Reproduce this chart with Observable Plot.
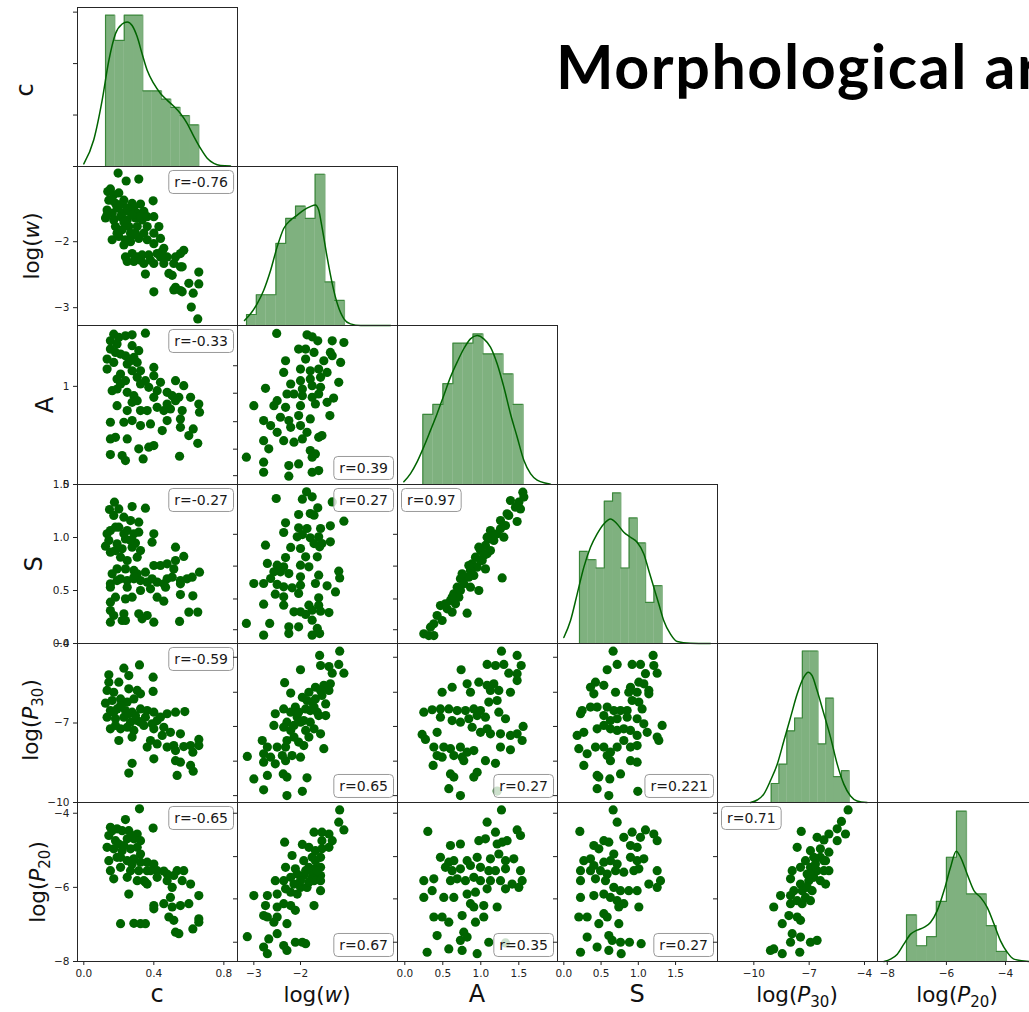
<!DOCTYPE html>
<html>
<head>
<meta charset="utf-8">
<script src="https://cdn.jsdelivr.net/npm/d3@7"></script>
<script src="https://cdn.jsdelivr.net/npm/@observablehq/plot@0.6"></script>
<style>
  html, body { margin: 0; padding: 0; background: #fff; overflow: hidden; }
  #fig { position: relative; width: 1029px; height: 1012px; overflow: hidden; background: #fff; }
  .panel { position: absolute; }
  #labels { position: absolute; left: 0; top: 0; pointer-events: none; }
</style>
</head>
<body>
<div id="fig"></div>
<script>
// ---- variables (column order = row order) ----
const varNames = ["c", "log(w)", "A", "S", "log(P30)", "log(P20)"];

// ---- axis domains and ticks ----
const colDomains = [[-0.036, 0.878], [-3.35, 0.079], [-0.096, 2.009], [-0.085, 2.063], [-11.97, -3.295], [-8.33, -2.92]];
const rowDomains = [null, [-3.27, -0.86], [0, 1.62], [0, 1.5], [-10, -4], [-8, -3.71]];
const densityMax = [3.09, 1.07, 1.06, 1.516, 0.51, 0.807];
const colTicks = [[0, 0.4, 0.8], [-3, -2], [0, 0.5, 1, 1.5], [0, 0.5, 1, 1.5], [-10, -7, -4], [-8, -6, -4]];
const colTickFormats = [".1f", "d", ".1f", ".1f", "d", "d"];
const rowTicks = [[0, 1, 2, 3], [-3, -2], [0, 1], [0, 0.5, 1, 1.5], [-10, -7, -4], [-8, -6, -4]];
const rowTickFormats = [null, "d", "d", ".1f", "d", "d"];
const innerRowTicks = [null, null, [1.21, 0.93, 0.64, 0.36, 0.09], [1.03, 0.73, 0.42, 0.13], [-4.52, -5.84, -7.13, -8.44, -9.74], [-4.0, -5.17, -6.31, -7.48]];

// ---- marginal histograms (density) and KDE curves ----
const cEdges = [0.124, 0.177, 0.231, 0.284, 0.337, 0.391, 0.444, 0.497, 0.550, 0.604, 0.657];
const cDensity = [2.94, 2.45, 2.94, 2.94, 1.47, 1.47, 1.31, 1.15, 0.99, 0.81];
const cKde = [[0.000,0.05],[0.057,0.52],[0.105,1.29],[0.143,2.06],[0.181,2.58],[0.219,2.77],[0.248,2.81],[0.276,2.74],[0.305,2.52],[0.333,2.19],[0.362,1.87],[0.400,1.61],[0.438,1.42],[0.476,1.29],[0.514,1.17],[0.552,1.03],[0.590,0.84],[0.629,0.58],[0.667,0.35],[0.705,0.16],[0.743,0.06],[0.781,0.02],[0.838,0.01]];

const logwEdges = [-3.157, -2.947, -2.737, -2.527, -2.317, -2.107, -1.897, -1.687, -1.477, -1.267, -1.057];
const logwDensity = [0.074, 0.207, 0.207, 0.552, 0.721, 0.804, 0.721, 1.018, 0.293, 0.169];
const logwKde = [[-3.20,0.034],[-3.07,0.079],[-2.93,0.146],[-2.79,0.236],[-2.64,0.372],[-2.50,0.529],[-2.36,0.653],[-2.21,0.709],[-2.07,0.743],[-1.93,0.777],[-1.79,0.800],[-1.68,0.811],[-1.61,0.777],[-1.54,0.664],[-1.43,0.462],[-1.32,0.282],[-1.21,0.146],[-1.07,0.045],[-0.93,0.011],[-0.71,0.0],[-0.07,0.0]];

const AEdges = [0.237, 0.369, 0.501, 0.633, 0.765, 0.897, 1.029, 1.161, 1.293, 1.425, 1.557];
const ADensity = [0.468, 0.534, 0.672, 0.942, 0.942, 1.004, 0.871, 0.871, 0.738, 0.534];
const AKde = [[-0.013,0.018],[0.075,0.073],[0.162,0.151],[0.250,0.251],[0.338,0.361],[0.425,0.472],[0.513,0.594],[0.601,0.716],[0.689,0.816],[0.776,0.905],[0.864,0.971],[0.952,0.993],[1.039,0.971],[1.127,0.916],[1.215,0.805],[1.303,0.650],[1.390,0.472],[1.478,0.317],[1.566,0.162],[1.654,0.073],[1.741,0.029],[1.873,0.007],[1.917,0.002]];

const SEdges = [0.210, 0.321, 0.432, 0.543, 0.654, 0.765, 0.876, 0.987, 1.098, 1.209, 1.320];
const SDensity = [0.879, 0.799, 0.720, 1.357, 1.436, 0.720, 1.197, 0.959, 0.392, 0.551];
const SKde = [[0.000,0.057],[0.089,0.217],[0.179,0.471],[0.268,0.726],[0.358,0.917],[0.447,1.045],[0.537,1.140],[0.626,1.188],[0.716,1.140],[0.805,1.061],[0.895,1.013],[0.984,0.965],[1.074,0.854],[1.141,0.694],[1.208,0.535],[1.275,0.376],[1.342,0.217],[1.432,0.089],[1.521,0.019],[1.700,0.003],[1.969,0.0]];

const P30Edges = [-9.06, -8.64, -8.21, -7.79, -7.37, -6.95, -6.52, -6.10, -5.68, -5.25, -4.83];
const P30Density = [0.061, 0.123, 0.230, 0.271, 0.486, 0.486, 0.188, 0.335, 0.083, 0.102];
const P30Kde = [[-10.18,0.0],[-9.82,0.008],[-9.46,0.027],[-9.10,0.070],[-8.73,0.123],[-8.37,0.198],[-8.01,0.273],[-7.65,0.348],[-7.29,0.402],[-7.05,0.418],[-6.84,0.407],[-6.57,0.359],[-6.20,0.284],[-5.84,0.209],[-5.48,0.123],[-5.12,0.059],[-4.76,0.021],[-4.40,0.005],[-3.86,0.0]];

const P20Edges = [-7.35, -7.01, -6.67, -6.34, -6.00, -5.66, -5.32, -4.98, -4.65, -4.31, -3.97];
const P20Density = [0.237, 0.080, 0.126, 0.305, 0.529, 0.763, 0.343, 0.343, 0.182, 0.051];
const P20Kde = [[-8.11,0.0],[-7.89,0.012],[-7.66,0.037],[-7.44,0.088],[-7.21,0.139],[-6.99,0.159],[-6.76,0.173],[-6.54,0.198],[-6.31,0.258],[-6.08,0.360],[-5.86,0.478],[-5.67,0.560],[-5.52,0.529],[-5.30,0.444],[-5.07,0.360],[-4.85,0.326],[-4.62,0.275],[-4.39,0.190],[-4.17,0.105],[-3.94,0.046],[-3.72,0.012],[-3.19,0.0]];

// ---- pairwise samples: [x (column variable), y (row variable)] ----
const c_logw = [[0.196,-0.96],[0.242,-1.08],[0.314,-1.05],[0.137,-1.24],[0.152,-1.20],[0.171,-1.29],[0.200,-1.26],[0.143,-1.37],[0.181,-1.42],[0.229,-1.37],[0.276,-1.42],[0.324,-1.43],[0.396,-1.38],[0.133,-1.52],[0.162,-1.57],[0.190,-1.49],[0.219,-1.57],[0.257,-1.54],[0.286,-1.49],[0.305,-1.57],[0.343,-1.54],[0.124,-1.64],[0.171,-1.67],[0.210,-1.62],[0.248,-1.67],[0.295,-1.64],[0.333,-1.67],[0.400,-1.62],[0.181,-1.77],[0.219,-1.82],[0.257,-1.77],[0.305,-1.77],[0.362,-1.77],[0.429,-1.77],[0.162,-1.97],[0.200,-1.92],[0.238,-1.97],[0.276,-1.90],[0.314,-1.95],[0.362,-1.97],[0.438,-1.95],[0.229,-2.05],[0.267,-2.00],[0.400,-2.03],[0.457,-2.10],[0.238,-2.23],[0.276,-2.18],[0.305,-2.23],[0.333,-2.20],[0.371,-2.20],[0.400,-2.33],[0.438,-2.23],[0.286,-2.30],[0.248,-2.30],[0.324,-2.28],[0.524,-2.23],[0.571,-2.13],[0.514,-2.33],[0.562,-2.38],[0.457,-2.33],[0.486,-2.48],[0.505,-2.51],[0.552,-2.38],[0.352,-2.49],[0.657,-2.46],[0.600,-2.63],[0.524,-2.69],[0.552,-2.74],[0.657,-2.64],[0.400,-2.76],[0.514,-2.73],[0.562,-2.76],[0.625,-2.78],[0.614,-2.99],[0.651,-3.17],[0.210,-1.44],[0.248,-1.49],[0.162,-1.37],[0.276,-1.59],[0.324,-1.62],[0.362,-1.62],[0.229,-1.70],[0.267,-1.87],[0.295,-1.87],[0.343,-1.87],[0.400,-1.87],[0.190,-1.87],[0.133,-1.59],[0.448,-2.15],[0.419,-2.18],[0.343,-2.33],[0.381,-2.28],[0.476,-2.23],[0.552,-2.18]];

const c_A = [[0.171,1.532],[0.200,1.498],[0.238,1.515],[0.276,1.525],[0.352,1.542],[0.152,1.464],[0.190,1.431],[0.152,1.380],[0.181,1.346],[0.276,1.414],[0.314,1.363],[0.238,1.312],[0.286,1.295],[0.133,1.278],[0.171,1.244],[0.248,1.227],[0.305,1.244],[0.133,1.176],[0.210,1.125],[0.276,1.159],[0.400,1.193],[0.190,1.075],[0.238,1.058],[0.305,1.092],[0.352,1.058],[0.400,1.108],[0.438,1.041],[0.524,1.058],[0.571,1.007],[0.162,0.956],[0.190,0.973],[0.286,0.905],[0.324,1.024],[0.371,0.990],[0.419,0.956],[0.476,0.939],[0.505,0.905],[0.543,0.888],[0.610,0.888],[0.657,0.820],[0.190,0.803],[0.276,0.837],[0.305,0.854],[0.248,0.753],[0.324,0.753],[0.362,0.753],[0.419,0.786],[0.457,0.753],[0.495,0.769],[0.562,0.753],[0.661,0.736],[0.152,0.634],[0.229,0.634],[0.276,0.651],[0.324,0.600],[0.381,0.617],[0.448,0.549],[0.476,0.651],[0.552,0.668],[0.552,0.583],[0.625,0.566],[0.152,0.464],[0.181,0.481],[0.248,0.464],[0.600,0.498],[0.314,0.363],[0.371,0.380],[0.400,0.397],[0.651,0.420],[0.152,0.305],[0.219,0.295],[0.238,0.244],[0.339,0.261],[0.547,0.288],[0.210,1.329],[0.267,1.261],[0.324,1.159],[0.210,1.024],[0.248,0.939],[0.400,0.888],[0.476,0.820],[0.524,0.854]];

const c_S = [[0.175,1.333],[0.147,1.264],[0.200,1.270],[0.276,1.292],[0.352,1.277],[0.171,1.208],[0.229,1.192],[0.267,1.160],[0.314,1.145],[0.152,1.066],[0.200,1.097],[0.248,1.066],[0.286,1.035],[0.314,1.050],[0.133,1.035],[0.143,0.972],[0.190,0.940],[0.238,0.987],[0.276,0.972],[0.295,0.947],[0.400,1.035],[0.390,0.956],[0.124,0.918],[0.181,0.877],[0.219,0.893],[0.276,0.909],[0.324,0.877],[0.210,0.814],[0.305,0.814],[0.524,0.909],[0.571,0.821],[0.162,0.657],[0.190,0.704],[0.238,0.704],[0.286,0.689],[0.305,0.657],[0.352,0.673],[0.400,0.736],[0.438,0.736],[0.476,0.752],[0.524,0.783],[0.514,0.704],[0.152,0.563],[0.190,0.594],[0.248,0.594],[0.286,0.610],[0.324,0.594],[0.362,0.579],[0.419,0.579],[0.476,0.610],[0.457,0.563],[0.505,0.626],[0.552,0.594],[0.590,0.610],[0.619,0.626],[0.661,0.673],[0.152,0.531],[0.248,0.531],[0.324,0.500],[0.381,0.516],[0.467,0.531],[0.552,0.563],[0.152,0.390],[0.181,0.437],[0.238,0.421],[0.276,0.437],[0.419,0.437],[0.457,0.399],[0.552,0.462],[0.623,0.450],[0.152,0.311],[0.171,0.264],[0.229,0.280],[0.314,0.280],[0.362,0.264],[0.600,0.296],[0.651,0.296],[0.152,0.201],[0.219,0.217],[0.238,0.217],[0.333,0.233],[0.400,0.201],[0.547,0.208],[0.181,1.097],[0.229,1.035],[0.267,0.972],[0.152,0.862],[0.248,0.783],[0.286,0.626],[0.390,0.610],[0.210,0.610]];

const c_P30 = [[0.318,-4.81],[0.229,-4.93],[0.143,-5.18],[0.257,-5.21],[0.396,-5.27],[0.143,-5.46],[0.200,-5.46],[0.133,-5.77],[0.171,-5.84],[0.257,-5.71],[0.305,-5.77],[0.324,-5.90],[0.396,-5.81],[0.124,-6.25],[0.162,-6.15],[0.210,-6.09],[0.248,-6.21],[0.286,-6.09],[0.152,-6.53],[0.190,-6.47],[0.238,-6.53],[0.276,-6.59],[0.324,-6.47],[0.362,-6.53],[0.400,-6.59],[0.133,-6.78],[0.181,-6.84],[0.229,-6.78],[0.267,-6.97],[0.305,-6.91],[0.352,-6.78],[0.419,-6.91],[0.476,-6.65],[0.524,-6.59],[0.577,-6.57],[0.152,-7.22],[0.210,-7.22],[0.248,-7.16],[0.286,-7.28],[0.343,-7.09],[0.400,-7.22],[0.457,-7.16],[0.495,-7.35],[0.448,-7.47],[0.552,-7.41],[0.200,-7.66],[0.276,-7.53],[0.381,-7.66],[0.419,-7.79],[0.476,-7.91],[0.514,-7.85],[0.571,-7.89],[0.610,-7.85],[0.657,-7.62],[0.657,-7.85],[0.362,-7.91],[0.400,-8.35],[0.524,-8.04],[0.524,-8.42],[0.552,-8.48],[0.623,-8.10],[0.610,-8.60],[0.625,-8.82],[0.276,-8.52],[0.257,-8.89],[0.533,-8.98],[0.171,-6.59],[0.210,-6.34],[0.257,-6.65],[0.295,-6.72],[0.181,-7.09],[0.324,-6.97],[0.390,-7.03],[0.438,-6.78]];

const c_P20 = [[0.318,-3.88],[0.238,-4.17],[0.396,-4.40],[0.152,-4.38],[0.190,-4.42],[0.219,-4.47],[0.257,-4.47],[0.305,-4.56],[0.324,-4.74],[0.143,-4.60],[0.181,-4.74],[0.200,-4.83],[0.248,-4.69],[0.286,-4.69],[0.133,-4.92],[0.171,-4.96],[0.219,-5.01],[0.267,-4.96],[0.305,-4.92],[0.324,-5.10],[0.143,-5.28],[0.190,-5.19],[0.248,-5.28],[0.286,-5.23],[0.362,-5.32],[0.400,-5.37],[0.152,-5.55],[0.210,-5.46],[0.267,-5.55],[0.314,-5.55],[0.362,-5.55],[0.419,-5.55],[0.457,-5.56],[0.514,-5.68],[0.571,-5.55],[0.171,-5.77],[0.248,-5.73],[0.305,-5.82],[0.343,-5.82],[0.419,-5.73],[0.476,-5.82],[0.505,-6.00],[0.562,-5.82],[0.610,-5.91],[0.257,-6.18],[0.352,-5.86],[0.400,-6.49],[0.400,-6.58],[0.457,-6.44],[0.495,-6.27],[0.505,-6.53],[0.552,-6.49],[0.600,-6.44],[0.657,-6.22],[0.657,-6.85],[0.657,-6.94],[0.486,-6.80],[0.514,-6.89],[0.524,-7.21],[0.543,-7.25],[0.623,-7.12],[0.210,-6.98],[0.286,-6.97],[0.324,-6.98],[0.352,-6.98],[0.162,-4.47],[0.276,-4.60],[0.229,-4.87],[0.210,-5.19],[0.276,-5.37],[0.324,-5.32],[0.381,-5.55],[0.476,-5.64],[0.533,-5.55],[0.362,-5.91]];

const logw_A = [[-2.51,1.539],[-1.86,1.525],[-1.75,1.505],[-1.63,1.464],[-1.32,1.464],[-1.07,1.447],[-2.04,1.380],[-1.89,1.380],[-1.71,1.346],[-1.36,1.346],[-2.32,1.261],[-1.89,1.278],[-1.50,1.261],[-1.32,1.312],[-1.14,1.244],[-2.36,1.142],[-2.00,1.176],[-1.79,1.159],[-1.61,1.176],[-1.43,1.142],[-2.00,1.058],[-1.79,1.075],[-1.57,1.092],[-1.96,0.973],[-1.75,1.007],[-1.57,0.990],[-1.18,1.041],[-2.75,0.980],[-2.21,1.024],[-2.29,0.922],[-2.50,0.854],[-2.14,0.922],[-1.96,0.905],[-1.75,0.888],[-1.61,0.922],[-1.29,0.881],[-3.00,0.803],[-2.57,0.803],[-2.32,0.786],[-2.00,0.803],[-1.68,0.820],[-1.43,0.837],[-2.79,0.651],[-2.43,0.685],[-2.25,0.651],[-2.04,0.702],[-2.64,0.600],[-2.50,0.532],[-2.21,0.583],[-2.00,0.600],[-1.37,0.702],[-1.79,0.668],[-2.36,0.447],[-2.14,0.431],[-1.96,0.464],[-1.61,0.481],[-1.54,0.498],[-2.79,0.447],[-1.86,0.532],[-2.68,0.363],[-1.79,0.346],[-1.68,0.312],[-1.75,0.278],[-3.16,0.278],[-2.79,0.227],[-2.25,0.193],[-2.04,0.210],[-2.79,0.125],[-2.25,0.085],[-1.75,0.125],[-1.61,0.142]];

const logw_S = [[-1.87,1.431],[-1.75,1.384],[-1.96,1.362],[-2.52,1.368],[-1.63,1.280],[-1.79,1.226],[-2.04,1.217],[-1.71,1.211],[-2.32,1.138],[-1.36,1.110],[-1.07,1.154],[-2.04,1.091],[-1.86,1.085],[-1.57,1.085],[-2.36,1.047],[-1.96,1.028],[-1.79,0.997],[-1.61,1.006],[-2.07,1.006],[-1.71,0.943],[-1.54,0.943],[-1.36,0.959],[-2.75,0.928],[-2.21,0.906],[-2.00,0.896],[-1.59,0.912],[-1.89,0.818],[-2.32,0.811],[-2.71,0.755],[-2.00,0.739],[-1.82,0.723],[-1.64,0.818],[-2.50,0.739],[-2.36,0.723],[-2.57,0.676],[-2.43,0.676],[-2.25,0.660],[-1.18,0.682],[-1.16,0.619],[-3.00,0.566],[-2.79,0.566],[-2.64,0.613],[-2.50,0.557],[-2.36,0.535],[-2.18,0.525],[-2.00,0.550],[-2.00,0.629],[-1.61,0.645],[-1.68,0.566],[-1.43,0.544],[-1.25,0.487],[-2.54,0.465],[-2.36,0.440],[-2.04,0.472],[-1.61,0.431],[-2.79,0.371],[-2.36,0.362],[-1.82,0.362],[-1.61,0.362],[-1.75,0.314],[-2.14,0.299],[-2.00,0.299],[-1.57,0.305],[-1.39,0.292],[-1.89,0.274],[-1.75,0.220],[-3.16,0.189],[-2.66,0.189],[-2.25,0.157],[-2.04,0.157],[-1.64,0.142],[-2.79,0.079],[-2.25,0.094],[-1.75,0.079],[-1.59,0.094],[-1.32,1.336]];

const logw_P30 = [[-1.16,-4.29],[-1.59,-4.45],[-1.18,-4.79],[-1.57,-4.83],[-1.39,-4.87],[-1.07,-5.12],[-1.32,-5.12],[-2.00,-4.99],[-2.34,-5.48],[-1.50,-5.58],[-1.68,-5.65],[-1.36,-5.52],[-1.82,-5.84],[-1.57,-5.77],[-2.21,-5.87],[-1.96,-6.03],[-1.68,-6.09],[-1.75,-6.21],[-1.46,-6.28],[-2.11,-6.40],[-1.89,-6.47],[-1.64,-6.59],[-2.36,-6.47],[-2.21,-6.59],[-2.07,-6.78],[-2.54,-6.65],[-2.29,-6.97],[-2.14,-7.09],[-2.00,-6.97],[-1.79,-6.97],[-1.61,-6.72],[-1.46,-6.72],[-2.57,-7.09],[-2.36,-7.16],[-2.21,-7.28],[-1.89,-7.28],[-1.71,-7.22],[-1.57,-7.41],[-2.82,-7.66],[-2.71,-7.91],[-2.50,-7.91],[-2.32,-7.91],[-2.04,-7.72],[-1.93,-7.85],[-1.50,-7.97],[-3.14,-8.26],[-2.79,-8.16],[-2.64,-8.29],[-2.39,-8.23],[-2.18,-8.23],[-2.00,-8.29],[-2.79,-8.48],[-2.54,-8.54],[-2.32,-8.42],[-3.00,-9.11],[-2.71,-8.98],[-2.37,-8.92],[-2.29,-9.04],[-1.86,-9.07],[-2.79,-9.52],[-2.29,-9.74],[-1.96,-9.58],[-1.86,-6.15],[-1.79,-6.53],[-2.04,-6.59],[-1.93,-6.91],[-1.71,-6.40],[-1.54,-5.96],[-1.39,-5.77],[-2.14,-7.53],[-1.82,-7.53],[-2.29,-7.66]];

const logw_P20 = [[-1.16,-3.91],[-1.18,-4.24],[-1.07,-4.45],[-1.54,-4.51],[-1.71,-4.51],[-1.39,-4.56],[-1.32,-4.74],[-1.96,-4.84],[-1.82,-4.92],[-2.34,-4.78],[-1.68,-5.01],[-1.54,-4.96],[-1.75,-5.19],[-1.57,-5.19],[-2.18,-5.14],[-1.93,-5.28],[-1.82,-5.46],[-1.68,-5.50],[-1.57,-5.46],[-2.11,-5.50],[-2.32,-5.46],[-1.64,-5.64],[-1.57,-5.68],[-2.07,-5.64],[-1.93,-5.68],[-1.75,-5.73],[-1.71,-5.82],[-2.54,-5.82],[-2.36,-5.82],[-2.14,-5.91],[-2.00,-6.00],[-1.86,-6.00],[-2.32,-6.04],[-2.21,-6.13],[-2.07,-6.18],[-1.57,-6.09],[-2.50,-6.18],[-2.71,-6.22],[-3.00,-6.22],[-1.71,-6.49],[-2.75,-6.49],[-2.50,-6.53],[-2.36,-6.44],[-2.21,-6.49],[-2.11,-6.62],[-2.79,-6.76],[-2.50,-6.80],[-2.71,-6.80],[-2.57,-6.94],[-2.29,-6.98],[-2.11,-7.48],[-1.96,-7.48],[-1.89,-7.52],[-2.50,-7.25],[-2.68,-7.39],[-2.36,-7.57],[-3.14,-7.33],[-2.79,-7.61],[-2.71,-7.79],[-2.29,-7.70],[-1.79,-5.55],[-1.89,-5.55],[-1.64,-5.55],[-2.00,-5.82],[-1.82,-5.86],[-2.21,-5.73],[-1.57,-5.82],[-1.68,-5.28],[-1.54,-4.74],[-1.39,-4.92]];

const A_S = [[1.553,1.428],[1.566,1.381],[1.390,1.349],[1.500,1.333],[1.522,1.270],[1.368,1.208],[1.478,1.151],[1.325,1.113],[1.259,1.082],[1.127,1.066],[1.215,1.035],[1.303,1.003],[1.105,0.987],[1.171,0.972],[1.061,0.925],[1.127,0.877],[0.996,0.877],[1.083,0.846],[0.930,0.814],[1.018,0.783],[0.886,0.752],[0.952,0.720],[0.864,0.689],[1.061,0.704],[0.798,0.626],[0.908,0.642],[0.732,0.610],[1.281,0.619],[0.776,0.563],[0.864,0.531],[0.689,0.531],[0.974,0.500],[0.645,0.469],[0.711,0.437],[0.601,0.406],[0.667,0.374],[0.469,0.358],[0.557,0.327],[0.623,0.296],[0.820,0.286],[0.425,0.264],[0.491,0.217],[0.382,0.186],[0.338,0.154],[0.250,0.091],[0.316,0.075],[0.382,0.075],[1.171,1.019],[1.039,0.830],[0.842,0.626],[0.732,0.500],[0.535,0.374],[0.996,0.783],[1.456,1.286],[1.346,1.223],[1.259,1.160],[1.083,1.003],[0.974,0.909],[0.842,0.736],[0.754,0.657],[0.623,0.437]];

const A_P30 = [[1.272,-4.29],[1.478,-4.45],[1.083,-4.79],[1.193,-4.83],[1.303,-4.79],[1.531,-4.83],[0.741,-4.99],[1.368,-5.12],[1.478,-5.14],[1.478,-5.40],[0.974,-5.46],[1.083,-5.58],[1.171,-5.52],[1.127,-5.77],[1.237,-5.77],[1.390,-5.84],[0.820,-5.52],[0.623,-5.65],[0.491,-5.84],[0.864,-5.84],[1.105,-6.21],[1.215,-6.15],[0.250,-6.59],[0.360,-6.50],[0.469,-6.47],[0.579,-6.47],[0.689,-6.53],[0.798,-6.53],[0.908,-6.47],[0.996,-6.53],[0.469,-6.78],[0.623,-6.91],[0.732,-6.97],[0.842,-6.84],[0.952,-6.72],[1.061,-6.78],[1.237,-6.59],[1.325,-6.84],[0.886,-7.16],[0.996,-7.35],[1.083,-7.22],[1.127,-7.41],[1.259,-7.41],[1.390,-7.47],[1.478,-7.41],[1.544,-7.66],[1.557,-7.13],[0.228,-7.43],[0.272,-7.62],[0.425,-7.35],[0.382,-7.91],[0.513,-7.91],[0.601,-7.97],[0.732,-7.91],[0.820,-8.10],[0.908,-8.04],[1.259,-7.91],[1.390,-8.01],[0.425,-8.23],[0.491,-8.29],[0.645,-8.23],[0.754,-8.29],[0.776,-8.42],[1.061,-8.42],[1.193,-8.52],[0.373,-8.60],[0.952,-8.86],[0.908,-9.04],[0.601,-8.92],[0.645,-9.04],[0.579,-9.48],[0.732,-9.74],[1.215,-9.57]];

const A_P20 = [[1.272,-3.91],[1.083,-4.24],[0.303,-4.49],[1.478,-4.45],[1.193,-4.51],[1.522,-4.60],[0.974,-4.74],[1.061,-4.69],[0.601,-4.87],[0.732,-4.83],[1.215,-4.83],[1.281,-4.78],[1.346,-4.74],[0.469,-5.19],[0.579,-5.32],[0.645,-5.28],[0.820,-5.28],[0.952,-5.19],[1.127,-5.23],[1.237,-5.10],[1.325,-5.28],[1.434,-5.23],[0.535,-5.46],[0.623,-5.55],[0.732,-5.50],[0.864,-5.41],[0.996,-5.46],[1.105,-5.55],[1.193,-5.55],[1.325,-5.50],[1.522,-5.55],[0.250,-5.82],[0.382,-5.77],[0.601,-5.82],[0.689,-5.77],[0.798,-5.82],[0.908,-5.73],[0.996,-5.82],[1.127,-5.82],[1.259,-5.82],[1.412,-5.91],[1.500,-6.00],[1.544,-5.82],[0.360,-6.09],[0.513,-6.27],[0.645,-6.27],[0.820,-6.18],[0.930,-6.13],[1.083,-6.04],[1.325,-6.04],[0.250,-6.27],[0.864,-6.44],[0.908,-6.53],[1.039,-6.49],[1.215,-6.53],[0.382,-6.80],[0.491,-6.80],[0.579,-6.94],[0.754,-6.76],[0.930,-6.94],[1.039,-6.80],[0.425,-7.30],[0.776,-7.21],[0.820,-7.34],[0.732,-7.43],[1.105,-7.48],[0.579,-7.66],[0.754,-7.70],[0.952,-7.79],[0.294,-7.75],[1.325,-7.50]];

const S_P30 = [[0.662,-4.29],[1.199,-4.45],[0.716,-4.79],[0.582,-4.99],[0.917,-4.79],[1.029,-4.79],[1.208,-4.83],[1.253,-5.12],[1.096,-5.14],[0.425,-5.46],[0.358,-5.65],[0.537,-5.58],[0.895,-5.65],[1.007,-5.46],[1.074,-5.52],[1.141,-5.77],[1.141,-5.90],[0.984,-5.84],[0.403,-5.90],[0.694,-5.84],[0.872,-5.84],[0.917,-6.15],[1.007,-6.21],[0.246,-6.53],[0.358,-6.40],[0.447,-6.40],[0.582,-6.40],[0.671,-6.53],[0.761,-6.53],[0.850,-6.53],[0.224,-6.65],[0.537,-6.72],[0.626,-6.91],[0.716,-6.84],[0.850,-6.78],[0.984,-6.84],[1.051,-6.47],[1.074,-7.03],[0.179,-7.47],[0.268,-7.35],[0.447,-7.22],[0.537,-7.09],[0.626,-7.22],[0.716,-7.28],[0.805,-7.22],[0.895,-7.28],[0.984,-7.47],[1.119,-7.35],[1.320,-7.09],[1.253,-7.53],[1.275,-7.66],[0.201,-7.97],[0.313,-8.16],[0.425,-7.91],[0.537,-7.91],[0.626,-8.10],[0.716,-7.91],[0.805,-7.66],[0.895,-7.91],[0.984,-7.85],[0.268,-8.60],[0.582,-8.23],[0.626,-8.42],[0.895,-8.42],[0.984,-8.48],[0.447,-8.98],[0.470,-9.04],[0.617,-9.11],[0.761,-8.92],[0.447,-9.48],[0.604,-9.74],[0.993,-9.58]];

const S_P20 = [[0.662,-3.91],[0.716,-4.24],[0.215,-4.49],[0.537,-4.74],[0.604,-4.78],[0.403,-4.87],[0.470,-4.96],[0.671,-5.10],[0.895,-4.87],[0.984,-4.92],[1.096,-4.45],[1.208,-4.56],[1.253,-4.74],[0.805,-4.65],[0.917,-4.51],[1.029,-4.65],[0.268,-5.28],[0.358,-5.23],[0.403,-5.41],[0.537,-5.32],[0.626,-5.28],[0.716,-5.37],[0.895,-5.19],[0.984,-5.28],[1.074,-5.23],[1.253,-5.55],[0.224,-5.55],[0.358,-5.55],[0.492,-5.55],[0.582,-5.64],[0.694,-5.55],[0.805,-5.59],[0.940,-5.55],[1.007,-5.50],[1.298,-5.82],[1.141,-5.91],[0.224,-5.82],[0.425,-5.77],[0.559,-5.82],[0.671,-6.00],[0.761,-6.09],[0.872,-6.09],[0.984,-6.09],[1.253,-6.00],[0.224,-6.27],[0.403,-6.22],[0.537,-6.18],[0.626,-6.27],[0.716,-6.36],[0.805,-6.44],[0.738,-6.53],[1.007,-6.53],[0.201,-6.80],[0.313,-6.80],[0.470,-6.98],[0.537,-6.71],[0.582,-6.80],[0.738,-6.98],[0.313,-7.34],[0.604,-7.30],[0.649,-7.43],[0.761,-7.48],[0.447,-7.61],[0.604,-7.70],[0.224,-7.75],[0.770,-7.79],[0.881,-7.48],[1.038,-7.52]];

const P30_P20 = [[-4.89,-3.91],[-5.25,-4.22],[-5.48,-4.42],[-5.93,-4.56],[-5.03,-4.56],[-7.43,-4.49],[-6.57,-4.65],[-6.20,-4.72],[-5.48,-4.74],[-7.65,-4.92],[-6.93,-5.01],[-6.39,-4.96],[-5.93,-5.05],[-6.75,-5.19],[-6.20,-5.28],[-7.20,-5.28],[-7.47,-5.46],[-6.93,-5.46],[-6.57,-5.55],[-6.20,-5.55],[-5.93,-5.55],[-7.92,-5.55],[-7.11,-5.64],[-6.75,-5.73],[-8.01,-5.77],[-7.47,-5.91],[-7.02,-5.82],[-6.39,-5.82],[-6.11,-5.91],[-7.83,-6.09],[-7.38,-6.09],[-6.84,-6.09],[-8.55,-6.22],[-8.01,-6.22],[-7.20,-6.27],[-7.38,-6.44],[-6.93,-6.36],[-8.92,-6.53],[-8.01,-6.44],[-8.10,-6.76],[-7.65,-6.80],[-7.47,-6.89],[-8.46,-6.98],[-7.92,-7.25],[-8.01,-7.48],[-7.47,-7.34],[-6.93,-7.48],[-6.57,-7.43],[-9.10,-7.70],[-8.92,-7.66],[-8.46,-7.79],[-7.51,-7.75],[-6.93,-5.64],[-6.66,-5.37],[-6.39,-5.19],[-7.11,-6.00],[-7.65,-6.36],[-6.11,-5.28]];

// ---- correlation annotations ----
const corrLabels = ["r=-0.76", "r=-0.33", "r=0.39", "r=-0.27", "r=0.27", "r=0.97", "r=-0.59", "r=0.65", "r=0.27", "r=0.221", "r=-0.65", "r=0.67", "r=0.35", "r=0.27", "r=0.71"];

// panel table: row, column, samples, annotation, annotation corner
const scatterPanels = [
  [1, 0, c_logw, corrLabels[0], "top-right"],
  [2, 0, c_A, corrLabels[1], "top-right"],
  [2, 1, logw_A, corrLabels[2], "bottom-right"],
  [3, 0, c_S, corrLabels[3], "top-right"],
  [3, 1, logw_S, corrLabels[4], "top-right"],
  [3, 2, A_S, corrLabels[5], "top-left"],
  [4, 0, c_P30, corrLabels[6], "top-right"],
  [4, 1, logw_P30, corrLabels[7], "bottom-right"],
  [4, 2, A_P30, corrLabels[8], "bottom-right"],
  [4, 3, S_P30, corrLabels[9], "bottom-right"],
  [5, 0, c_P20, corrLabels[10], "top-right"],
  [5, 1, logw_P20, corrLabels[11], "bottom-right"],
  [5, 2, A_P20, corrLabels[12], "bottom-right"],
  [5, 3, S_P20, corrLabels[13], "bottom-right"],
  [5, 4, P30_P20, corrLabels[14], "top-left"]
];
const histPanels = [
  [cEdges, cDensity, cKde],
  [logwEdges, logwDensity, logwKde],
  [AEdges, ADensity, AKde],
  [SEdges, SDensity, SKde],
  [P30Edges, P30Density, P30Kde],
  [P20Edges, P20Density, P20Kde]
];

// ---- layout ----
const GREEN = "darkgreen";
const cellW = 160, cellH = 159, originX = 77, originY = 7;
const fig = document.getElementById("fig");

function fmt(spec) { return spec ? d3.format(spec) : () => ""; }

function xScale(row, col) {
  const bottom = row === 5;
  return {
    domain: colDomains[col],
    axis: bottom ? "bottom" : null,
    ticks: colTicks[col],
    tickFormat: fmt(colTickFormats[col]),
    tickSize: 4, tickPadding: 4, label: null
  };
}

function drawPanel(row, col, y, marks) {
  const svg = Plot.plot({
    width: cellW, height: cellH, margin: 0,
    style: {background: "transparent", overflow: "visible", fontFamily: "'DejaVu Sans', sans-serif", fontSize: "10.5px", color: "#222"},
    x: xScale(row, col),
    y,
    marks
  });
  svg.classList.add("panel");
  svg.style.left = (originX + col * cellW) + "px";
  svg.style.top = (originY + row * cellH) + "px";
  fig.appendChild(svg);
  // rounded boxes behind the correlation annotations
  svg.querySelectorAll('g[aria-label="text"] text').forEach(t => {
    const b = t.getBBox();
    const rect = document.createElementNS("http://www.w3.org/2000/svg", "rect");
    const padX = 5.5, h = b.height + 7;
    rect.setAttribute("x", b.x - padX);
    rect.setAttribute("y", b.y + b.height / 2 - h / 2);
    rect.setAttribute("width", b.width + 2 * padX);
    rect.setAttribute("height", h);
    rect.setAttribute("rx", 4);
    rect.setAttribute("fill", "white");
    rect.setAttribute("fill-opacity", 0.8);
    rect.setAttribute("stroke", "#9a9a9a");
    rect.setAttribute("stroke-width", 1);
    if (t.getAttribute("transform")) rect.setAttribute("transform", t.getAttribute("transform"));
    t.parentNode.insertBefore(rect, t);
  });
}

function frame() { return Plot.frame({stroke: "#262626", strokeWidth: 1}); }

// diagonal: histogram + KDE
histPanels.forEach(([edges, dens, kde], i) => {
  const bins = dens.map((d, k) => ({x1: edges[k], x2: edges[k + 1], d}));
  const outline = [{x: edges[0], y: 0}, ...dens.map((d, k) => ({x: edges[k], y: d})), {x: edges[edges.length - 1], y: 0}];
  const y = i === 0
    ? {domain: [0, densityMax[i]], axis: "left", ticks: rowTicks[0], tickFormat: () => "", tickSize: 4, label: null}
    : {domain: [0, densityMax[i]], axis: null};
  drawPanel(i, i, y, [
    Plot.rect(bins, {x1: "x1", x2: "x2", y1: 0, y2: "d", fill: GREEN, fillOpacity: 0.5}),
    Plot.line(outline, {x: "x", y: "y", curve: "step-after", stroke: GREEN, strokeOpacity: 0.55, strokeWidth: 1.2}),
    Plot.line(kde, {x: d => d[0], y: d => d[1], curve: "monotone-x", stroke: GREEN, strokeWidth: 1.5}),
    frame()
  ]);
});

// lower triangle: scatter + correlation box
scatterPanels.forEach(([row, col, data, label, corner]) => {
  const left = col === 0;
  const y = left
    ? {domain: rowDomains[row], axis: "left", ticks: rowTicks[row], tickFormat: fmt(rowTickFormats[row]), tickSize: 4, tickPadding: 4, label: null}
    : {domain: rowDomains[row], axis: "left", ticks: innerRowTicks[row], tickFormat: () => "", tickSize: 4, label: null};
  const isLeft = corner.endsWith("left");
  const isTop = corner.startsWith("top");
  drawPanel(row, col, y, [
    Plot.dot(data, {x: d => d[0], y: d => d[1], r: 4.6, fill: GREEN}),
    Plot.text([label], {
      frameAnchor: corner, text: d => d, fontSize: 14, fill: "#1a1a1a",
      textAnchor: isLeft ? "start" : "end", lineAnchor: "middle",
      dx: isLeft ? 9.5 : -9.5, dy: isTop ? 16 : -16
    }),
    frame()
  ]);
});

// ---- axis titles and headline ----
const NS = "http://www.w3.org/2000/svg";
const overlay = document.createElementNS(NS, "svg");
overlay.setAttribute("id", "labels");
overlay.setAttribute("width", 1029);
overlay.setAttribute("height", 1012);
fig.appendChild(overlay);

function logLabel(parent, sym, sub) {
  parent.appendChild(document.createTextNode("log("));
  const it = document.createElementNS(NS, "tspan");
  it.setAttribute("font-style", "italic");
  it.textContent = sym;
  parent.appendChild(it);
  if (sub) {
    const s = document.createElementNS(NS, "tspan");
    s.setAttribute("font-size", "15px");
    s.setAttribute("dy", "5");
    s.textContent = sub;
    parent.appendChild(s);
    const close = document.createElementNS(NS, "tspan");
    close.setAttribute("dy", "-5");
    close.textContent = ")";
    parent.appendChild(close);
  } else {
    parent.appendChild(document.createTextNode(")"));
  }
}

function axisTitle(i, x, y, rotate) {
  const t = document.createElementNS(NS, "text");
  t.setAttribute("font-family", "'DejaVu Sans', sans-serif");
  t.setAttribute("text-anchor", "middle");
  t.setAttribute("fill", "#111");
  if (rotate) t.setAttribute("transform", `translate(${x},${y}) rotate(-90)`);
  else { t.setAttribute("x", x); t.setAttribute("y", y); }
  const name = varNames[i];
  if (name.startsWith("log")) {
    t.setAttribute("font-size", "21.5px");
    if (i === 1) logLabel(t, "w");
    else logLabel(t, "P", i === 4 ? "30" : "20");
  } else {
    t.setAttribute("font-size", "24px");
    t.textContent = name;
  }
  overlay.appendChild(t);
}

// left titles (baseline x, centre y) and bottom titles (centre x)
const leftTitlePos = [[33, 90], [38.5, 246], [53, 405], [42, 564], [38, 720], [45, 882]];
leftTitlePos.forEach(([x, y], i) => axisTitle(i, x, y, true));
for (let i = 0; i < 6; i++) axisTitle(i, originX + i * cellW + cellW / 2, 1002, false);

// headline
const title = document.createElementNS(NS, "text");
title.setAttribute("x", 556);
title.setAttribute("y", 89);
title.setAttribute("font-family", "Lato, 'Open Sans', sans-serif");
title.setAttribute("font-weight", "700");
title.setAttribute("font-size", "61px");
title.setAttribute("fill", "#000");
title.textContent = "Morphological ar";
overlay.appendChild(title);
const ctx = document.createElement("canvas").getContext("2d");
ctx.font = "bold 61px Lato";
const wordW = ctx.measureText("Morphological").width;
title.setAttribute("letter-spacing", ((412 - wordW) / 13).toFixed(2));
</script>
</body>
</html>
